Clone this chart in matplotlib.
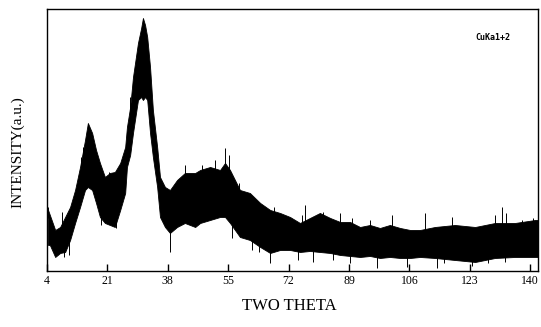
import matplotlib
matplotlib.use('Agg')
import matplotlib.pyplot as plt
import numpy as np

two_theta = [4.3, 4.8, 6.3, 7.7, 9.1, 10.5, 11.9, 13.3, 14.7, 15.5, 16.7, 17.8,
             18.9, 20.3, 21.7, 23.1, 24.6, 26.0, 26.5, 27.4, 28.2, 29.6, 30.5,
             31.0, 31.6, 32.2, 33.0, 33.8, 35.0, 35.8, 37.2, 38.6, 40.6, 42.8,
             45.7, 47.1, 49.9, 52.7, 54.1, 55.5, 58.3, 61.1, 64.0, 66.8, 69.6,
             72.4, 75.2, 78.0, 80.8, 83.7, 86.5, 89.3, 92.1, 94.9, 97.7, 100.5,
             103.4, 106.2, 109.0, 113.2, 118.8, 124.5, 130.1, 135.7, 141.4, 142.2]
upper = [61, 56, 41, 44, 54, 64, 81, 104, 131, 148, 138, 121,
         108, 94, 98, 99, 108, 124, 144, 164, 194, 228, 243,
         253, 246, 234, 204, 161, 124, 94, 84, 81, 91, 98,
         98, 101, 104, 101, 108, 101, 81, 78, 68, 61, 58,
         54, 48, 53, 58, 53, 49, 49, 44, 46, 43, 46,
         43, 41, 41, 44, 46, 44, 48, 48, 51, 51]
lower = [26, 26, 14, 18, 19, 31, 48, 64, 81, 84, 81, 68,
         54, 48, 46, 44, 61, 78, 104, 116, 138, 171, 174,
         171, 174, 171, 138, 114, 84, 54, 44, 38, 44, 48,
         44, 48, 51, 54, 54, 48, 34, 31, 24, 18, 21,
         21, 19, 20, 19, 18, 16, 15, 14, 15, 13, 14,
         13, 13, 14, 13, 11, 9, 13, 14, 14, 14]

# isolated noise spikes sticking out of the band
spike_up_theta = [4.3, 8.2, 10.8, 13.6, 14.1, 18.1, 21.5, 22.3, 24.8, 27.4,
                  42.8, 46.5, 47.6, 51.3, 54.1, 55.2, 58.0, 67.9, 75.8, 76.6,
                  81.7, 86.5, 89.8, 94.9, 101.1, 110.4, 118.0, 130.1, 132.1,
                  133.2, 137.7, 140.8]
spike_up_top = [64, 59, 61, 114, 124, 104, 99, 98, 104, 174,
                106, 99, 106, 111, 123, 116, 88, 64, 56, 66,
                59, 58, 53, 51, 56, 58, 54, 56, 64,
                58, 51, 53]
spike_dn_theta = [8.8, 10.2, 19.2, 23.4, 38.6, 56.1, 61.7, 63.7, 66.8, 74.6,
                  78.9, 84.5, 89.3, 96.9, 105.3, 113.8, 115.7, 123.6, 128.1, 132.9]
spike_dn_bot = [14, 16, 46, 43, 19, 33, 21, 19, 8, 11,
                9, 11, 8, 3, 4, 3, 8, 5, 8, 9]

xticks = [4, 21, 38, 55, 72, 89, 106, 123, 140]

serif = ['Liberation Serif', 'DejaVu Serif']

fig = plt.figure(figsize=(5.41, 3.27), dpi=100)
ax = fig.add_axes([0.0869, 0.1713, 0.9076, 0.8012])

ax.fill_between(two_theta, lower, upper, color='black', linewidth=0.6)
mid = np.interp(spike_up_theta, two_theta, upper)
ax.vlines(spike_up_theta, mid - 8, spike_up_top, color='black', linewidth=0.7)
mid = np.interp(spike_dn_theta, two_theta, lower)
ax.vlines(spike_dn_theta, spike_dn_bot, mid + 8, color='black', linewidth=0.7)

ax.set_xlim(4, 142.2)
ax.set_ylim(0, 262)
ax.set_xticks(xticks)
ax.set_xticklabels([str(t) for t in xticks], family=serif, fontsize=8.5)
ax.set_yticks([])
ax.tick_params(axis='x', direction='in', length=5, width=1, pad=3)
for s in ax.spines.values():
    s.set_linewidth(1)
    s.set_color('black')

ax.text(0.943, 0.89, 'CuKa1+2', transform=ax.transAxes, ha='right', va='center',
        family='DejaVu Sans Mono', fontsize=6, fontweight='bold')

fig.text(0.535, 0.065, 'TWO THETA', ha='center', va='center', family=serif, fontsize=12)
fig.text(0.033, 0.535, 'INTENSITY(a.u.)', ha='center', va='center', rotation=90,
         family=serif, fontsize=11)

fig.savefig('out.png', dpi=100)
